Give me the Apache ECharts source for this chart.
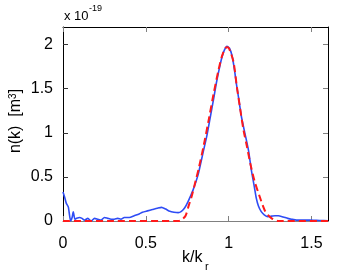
<!DOCTYPE html>
<html><head><meta charset="utf-8">
<script src="https://cdn.jsdelivr.net/npm/echarts@6/dist/echarts.min.js"></script>
<style>html,body{margin:0;padding:0;background:#fff}#c{width:337px;height:273px}</style>
</head><body><div id="c"></div>
<script>
var xTicks = [0, 0.5, 1, 1.5];
var yTicks = [0, 0.5, 1, 1.5, 2];
var xTickLabels = ['0', '0.5', '1', '1.5'];
var yTickLabels = ['0', '0.5', '1', '1.5', '2'];

var blueX = [0.000,0.010,0.020,0.032,0.046,0.055,0.062,0.072,0.082,0.100,0.115,0.130,0.150,0.170,0.190,0.210,0.230,0.250,0.270,0.290,0.310,0.330,0.350,0.370,0.400,0.430,0.460,0.480,0.510,0.540,0.570,0.595,0.620,0.645,0.670,0.695,0.715,0.735,0.755,0.785,0.815,0.845,0.870,0.890,0.910,0.926,0.945,0.960,0.975,0.990,1.005,1.020,1.035,1.046,1.060,1.077,1.100,1.120,1.137,1.155,1.167,1.180,1.197,1.215,1.237,1.260,1.280,1.300,1.330,1.357,1.380,1.410,1.450,1.490,1.550,1.600];
var blueY = [0.33,0.27,0.20,0.16,0.00,0.04,0.105,0.02,0.03,0.04,0.03,0.01,0.03,0.00,0.03,0.02,0.01,0.04,0.03,0.02,0.02,0.03,0.02,0.04,0.04,0.06,0.08,0.10,0.115,0.13,0.145,0.155,0.135,0.11,0.10,0.095,0.11,0.15,0.22,0.35,0.52,0.77,0.98,1.185,1.39,1.565,1.74,1.86,1.94,1.98,1.96,1.88,1.72,1.565,1.40,1.185,0.98,0.80,0.58,0.39,0.26,0.17,0.106,0.07,0.05,0.055,0.06,0.06,0.045,0.03,0.02,0.01,0.01,0.01,0.005,0.003];

var redX = [0.00,0.30,0.70,0.72,0.74,0.76,0.78,0.80,0.82,0.85,0.88,0.91,0.94,0.96,0.98,0.995,1.01,1.03,1.05,1.07,1.09,1.11,1.13,1.157,1.187,1.217,1.237,1.26,1.28,1.30,1.60];
var redY = [0,0,0,0.02,0.06,0.18,0.30,0.45,0.60,0.86,1.15,1.45,1.72,1.87,1.96,1.97,1.92,1.80,1.52,1.27,1.03,0.85,0.66,0.45,0.28,0.125,0.07,0.03,0.01,0,0];

function pairs(xs, ys){ return xs.map(function(x,i){return [x, ys[i]];}); }

var FONT = '"Liberation Sans", Arial, Helvetica, sans-serif';
var chart = echarts.init(document.getElementById('c'), null, {renderer:'canvas'});
var grid = {left:63, right:9, top:27, bottom:52};
chart.setOption({
  animation:false,
  backgroundColor:'#fff',
  grid: grid,
  xAxis: [{
    type:'value', min:0, max:1.6, position:'bottom',
    axisLine:{show:true, onZero:false, lineStyle:{color:'#808080', width:1}},
    axisTick:{show:true, inside:true, length:5, customValues: xTicks, lineStyle:{color:'#808080'}},
    axisLabel:{show:true, customValues: xTicks, formatter:function(v){return xTickLabels[xTicks.indexOf(v)];}, fontSize:16, fontFamily:FONT, color:'#000', margin:15},
    splitLine:{show:false}
  },{
    type:'value', min:0, max:1.6, position:'top',
    axisLine:{show:true, onZero:false, lineStyle:{color:'#000', width:1}},
    axisTick:{show:true, inside:true, length:5, customValues: xTicks, lineStyle:{color:'#808080'}},
    axisLabel:{show:false}, splitLine:{show:false}
  }],
  yAxis: [{
    type:'value', min:0, max:2.2, position:'left',
    axisLine:{show:true, onZero:false, lineStyle:{color:'#000', width:1}},
    axisTick:{show:true, inside:true, length:5, customValues: yTicks, lineStyle:{color:'#333'}},
    axisLabel:{show:true, customValues: yTicks, formatter:function(v){return yTickLabels[yTicks.indexOf(v)];}, fontSize:16, fontFamily:FONT, color:'#000', margin:10},
    splitLine:{show:false}
  },{
    type:'value', min:0, max:2.2, position:'right',
    axisLine:{show:true, onZero:false, lineStyle:{color:'#000', width:1}},
    axisTick:{show:true, inside:true, length:5, customValues: yTicks, lineStyle:{color:'#808080'}},
    axisLabel:{show:false}, splitLine:{show:false}
  }],
  series: [{
    type:'line', data: pairs(blueX, blueY), showSymbol:false, symbol:'none',
    lineStyle:{color:'#2e4cf5', width:1.6}, smooth:0.2, z:3
  },{
    type:'line', data: pairs(redX, redY), showSymbol:false, symbol:'none',
    lineStyle:{color:'#ff1a1a', width:2, type:[7,4]}, smooth:0.3, z:4
  }],
  graphic: [
    {type:'text', left:64, top:10, style:{text:'x 10', fontSize:13, fontFamily:FONT, fill:'#000'}},
    {type:'text', left:89, top:4, style:{text:'-19', fontSize:9, fontFamily:FONT, fill:'#000'}},
    {type:'text', left:182, top:250, style:{text:'k/k', fontSize:16, fontFamily:FONT, fill:'#000'}},
    {type:'text', left:205, top:261, style:{text:'r', fontSize:11, fontFamily:FONT, fill:'#000'}},
    {type:'text', x:16, y:121, rotation:Math.PI/2, style:{
      text:'{a|n(k)  [m}{s|3}{a|]}', align:'center', verticalAlign:'middle',
      rich:{a:{fontSize:16, fontFamily:FONT, fill:'#000', color:'#000'}, s:{fontSize:10, fontFamily:FONT, verticalAlign:'top', fill:'#000', color:'#000'}}
    }}
  ]
});
</script></body></html>
